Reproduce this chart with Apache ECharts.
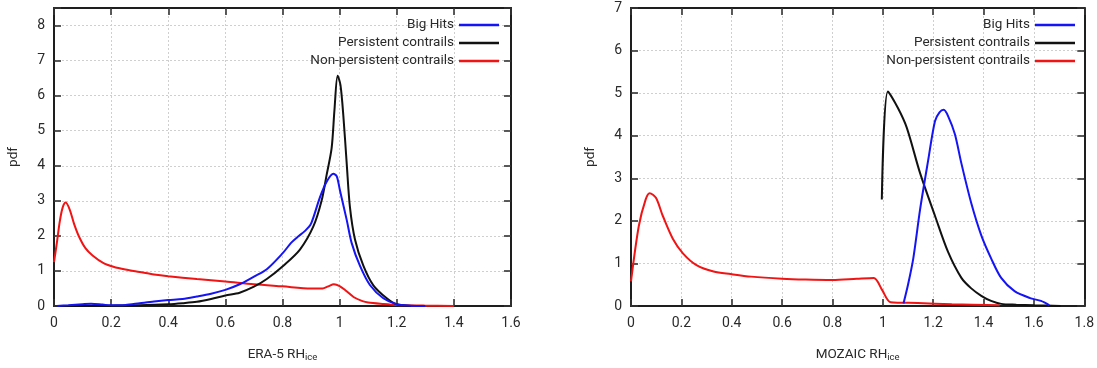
<!DOCTYPE html>
<html>
<head>
<meta charset="utf-8">
<script src="https://cdn.jsdelivr.net/npm/echarts@6/dist/echarts.min.js"></script>
<style>
  html, body { margin: 0; padding: 0; background: #fff; }
  #chart { width: 1097px; height: 368px; }
</style>
</head>
<body>
<div id="chart"></div>
<script>
// ---- ERA-5 panel (left) ----
const era5BigHitsX = [0.01, 0.05, 0.1, 0.13, 0.17, 0.2, 0.25, 0.3, 0.35, 0.4, 0.45, 0.5, 0.55, 0.6, 0.65, 0.7, 0.745, 0.8, 0.83, 0.85, 0.88, 0.9, 0.931, 0.955, 0.978, 0.99, 1.001, 1.025, 1.042, 1.071, 1.106, 1.153, 1.2, 1.25, 1.3];
const era5BigHitsY = [0.0, 0.02, 0.05, 0.065, 0.04, 0.02, 0.03, 0.08, 0.13, 0.17, 0.2, 0.27, 0.35, 0.46, 0.62, 0.84, 1.05, 1.5, 1.8, 1.95, 2.15, 2.35, 3.1, 3.55, 3.77, 3.7, 3.3, 2.45, 1.8, 1.15, 0.6, 0.22, 0.05, 0.01, 0.0];

const era5PersistX = [0.02, 0.2, 0.3, 0.4, 0.45, 0.5, 0.55, 0.6, 0.65, 0.7, 0.745, 0.803, 0.861, 0.908, 0.937, 0.955, 0.972, 0.982, 0.993, 1.003, 1.013, 1.025, 1.036, 1.054, 1.083, 1.118, 1.165, 1.2, 1.25];
const era5PersistY = [0.0, 0.01, 0.02, 0.05, 0.08, 0.12, 0.2, 0.3, 0.38, 0.55, 0.77, 1.15, 1.61, 2.27, 3.01, 3.76, 4.5, 5.6, 6.57, 6.3, 5.43, 4.04, 2.83, 1.89, 1.15, 0.59, 0.22, 0.05, 0.0];

const era5NonPersistX = [0.0, 0.01, 0.02, 0.03, 0.041, 0.055, 0.07, 0.087, 0.11, 0.135, 0.172, 0.208, 0.25, 0.3, 0.35, 0.4, 0.5, 0.6, 0.7, 0.8, 0.9, 0.94, 0.96, 0.98, 1.0, 1.02, 1.05, 1.08, 1.1, 1.15, 1.2, 1.3, 1.4];
const era5NonPersistY = [1.25, 1.8, 2.4, 2.8, 2.95, 2.75, 2.35, 1.99, 1.65, 1.44, 1.23, 1.12, 1.04, 0.97, 0.9, 0.85, 0.77, 0.7, 0.62, 0.56, 0.5, 0.5, 0.56, 0.62, 0.57, 0.45, 0.25, 0.14, 0.1, 0.06, 0.03, 0.01, 0.0];

// ---- MOZAIC panel (right) ----
const mozBigHitsX = [1.082, 1.1, 1.121, 1.148, 1.18, 1.207, 1.225, 1.242, 1.26, 1.286, 1.312, 1.351, 1.391, 1.43, 1.47, 1.523, 1.588, 1.628, 1.661];
const mozBigHitsY = [0.06, 0.5, 1.12, 2.27, 3.42, 4.34, 4.55, 4.61, 4.45, 4.04, 3.35, 2.42, 1.66, 1.12, 0.66, 0.35, 0.18, 0.12, 0.02];

const mozPersistX = [0.996, 1.02, 1.06, 1.095, 1.148, 1.207, 1.259, 1.312, 1.35, 1.391, 1.43, 1.47, 1.53, 1.6, 1.65, 1.706];
const mozPersistY = [2.5, 5.04, 4.65, 4.19, 3.12, 2.12, 1.27, 0.66, 0.42, 0.24, 0.12, 0.05, 0.03, 0.015, 0.01, 0.0];

const mozNonPersistX = [0.0, 0.031, 0.058, 0.074, 0.099, 0.126, 0.166, 0.207, 0.26, 0.328, 0.396, 0.477, 0.6, 0.693, 0.8, 0.896, 0.964, 0.997, 1.031, 1.139, 1.274, 1.464];
const mozNonPersistY = [0.58, 1.88, 2.5, 2.65, 2.54, 2.12, 1.58, 1.23, 0.96, 0.81, 0.75, 0.69, 0.64, 0.62, 0.61, 0.64, 0.66, 0.38, 0.09, 0.07, 0.04, 0.015];

const seriesNames = ['Big Hits', 'Persistent contrails', 'Non-persistent contrails'];
const seriesColors = ['#1414f5', '#111111', '#f01414'];

const zip = (xs, ys) => xs.map((x, i) => [x, ys[i]]);

const FONT = 'Roboto, "Liberation Sans", sans-serif';
const TEXT = '#2a2a2a';

const panels = [
  { left: 54, top: 8, width: 457, height: 303, xMax: 1.6, yMax: 8.5, xName: 'ERA-5 RH',
    data: [zip(era5BigHitsX, era5BigHitsY), zip(era5PersistX, era5PersistY), zip(era5NonPersistX, era5NonPersistY)],
    legendRight: 598 },
  { left: 631, top: 8, width: 456, height: 304, xMax: 1.8, yMax: 7, xName: 'MOZAIC RH',
    data: [zip(mozBigHitsX, mozBigHitsY), zip(mozPersistX, mozPersistY), zip(mozNonPersistX, mozNonPersistY)],
    legendRight: 22 }
];

const grid = [], xAxis = [], yAxis = [], series = [], legend = [];

const axisLine = () => ({ show: true, onZero: false, lineStyle: { color: '#1e1e1e', width: 2 } });
const tickIn = () => ({ show: true, inside: true, length: 7, lineStyle: { color: '#333', width: 1.6 } });
const split = () => ({ show: true, lineStyle: { color: '#cfcfcf', width: 1, type: [2, 2] } });
const labelStyle = { color: TEXT, fontSize: 14, fontFamily: FONT };

panels.forEach((p, gi) => {
  grid.push({ left: p.left, top: p.top, width: p.width, height: p.height, containLabel: false });

  const yMaxInt = Math.floor(p.yMax);
  const xFmt = v => (v > p.xMax + 1e-9 ? '' : String(Math.round(v * 10) / 10));
  const yFmt = v => (v > yMaxInt + 1e-9 ? '' : String(Math.round(v)));

  // bottom x axis with labels
  xAxis.push({
    type: 'value', gridIndex: gi, position: 'bottom', min: 0, max: p.xMax, interval: 0.2,
    axisLine: axisLine(), axisTick: tickIn(), splitLine: split(),
    axisLabel: { ...labelStyle, margin: 10, formatter: xFmt },
    name: '{a|' + p.xName + '}{b|ice}', nameLocation: 'middle', nameGap: 40,
    nameTextStyle: { rich: {
      a: { color: TEXT, fontSize: 13.5, fontFamily: FONT },
      b: { color: TEXT, fontSize: 9.5, fontFamily: FONT, padding: [7, 0, 0, 0] }
    } }
  });
  // top mirror axis
  xAxis.push({
    type: 'value', gridIndex: gi, position: 'top', min: 0, max: p.xMax, interval: 0.2,
    axisLine: axisLine(), axisTick: tickIn(), splitLine: { show: false }, axisLabel: { show: false }
  });
  // left y axis with labels
  yAxis.push({
    type: 'value', gridIndex: gi, position: 'left', min: 0, max: p.yMax, interval: 1,
    axisLine: axisLine(), axisTick: tickIn(), splitLine: split(),
    axisLabel: { ...labelStyle, margin: 9, formatter: yFmt },
    name: 'pdf', nameLocation: 'middle', nameGap: 33,
    nameTextStyle: { color: TEXT, fontSize: 13.5, fontFamily: FONT }
  });
  // right mirror axis
  yAxis.push({
    type: 'value', gridIndex: gi, position: 'right', min: 0, max: p.yMax, interval: 1,
    axisLine: axisLine(), axisTick: tickIn(), splitLine: { show: false }, axisLabel: { show: false }
  });

  p.data.forEach((d, si) => {
    series.push({
      type: 'line', name: seriesNames[si], xAxisIndex: gi * 2, yAxisIndex: gi * 2,
      data: d, symbol: 'none', smooth: 0.3,
      lineStyle: { color: seriesColors[si], width: 2 }, itemStyle: { color: seriesColors[si] },
      z: 3 - si, silent: true
    });
  });

  legend.push({
    data: seriesNames.map((n, si) => ({ name: n, icon: 'rect', itemStyle: { color: seriesColors[si] } })),
    orient: 'vertical', align: 'right', right: p.legendRight, top: 18,
    padding: 0, itemGap: 4, itemWidth: 40, itemHeight: 2.5, selectedMode: false,
    textStyle: { color: TEXT, fontSize: 13.5, lineHeight: 14, fontFamily: FONT }
  });
});

const chart = echarts.init(document.getElementById('chart'), null, { renderer: 'canvas' });
chart.setOption({ animation: false, backgroundColor: '#fff', grid, xAxis, yAxis, series, legend });
</script>
</body>
</html>
